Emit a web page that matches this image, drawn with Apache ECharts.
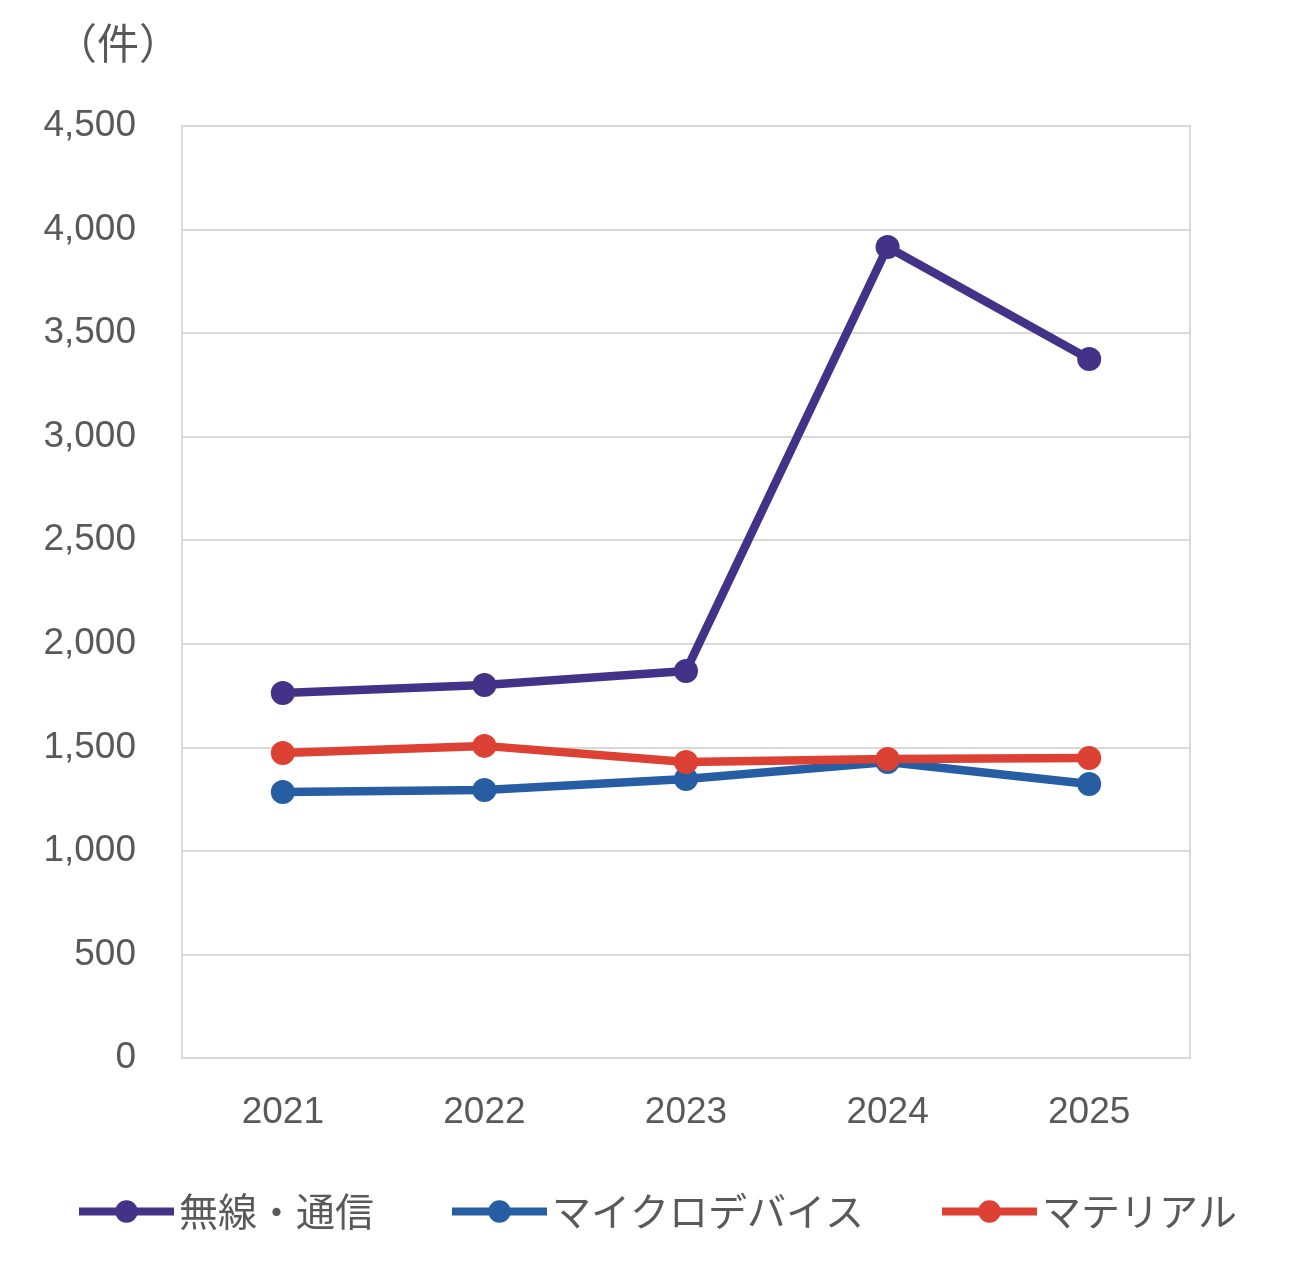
<!DOCTYPE html>
<html>
<head>
<meta charset="utf-8">
<script src="https://cdn.jsdelivr.net/npm/echarts@6/dist/echarts.min.js"></script>
<style>
  html, body { margin: 0; padding: 0; background: #fff; }
  #chart { width: 1312px; height: 1280px; }
</style>
</head>
<body>
<div id="chart"></div>
<script>
// 年度
const years = ['2021', '2022', '2023', '2024', '2025'];
// 件数
const wireless = [1762, 1801, 1869, 3916, 3375];
const microDevice = [1284, 1294, 1347, 1429, 1323];
const material = [1473, 1507, 1429, 1444, 1449];

const seriesNames = ['無線・通信', 'マイクロデバイス', 'マテリアル'];
const colors = ['#433388', '#275ea3', '#dc4133'];

const chart = echarts.init(document.getElementById('chart'));

function lineSeries(name, data, color) {
  return {
    name: name,
    type: 'line',
    data: data,
    symbol: 'circle',
    symbolSize: 24,
    lineStyle: { width: 8.5, color: color },
    itemStyle: { color: color },
    emphasis: { disabled: true }
  };
}

const option = {
  animation: false,
  backgroundColor: '#fff',
  textStyle: { fontFamily: 'Noto Sans CJK JP, Liberation Sans, sans-serif' },
  title: {
    text: '（件）',
    left: 50,
    top: 17,
    textStyle: { fontSize: 42, fontWeight: 'normal', color: '#595959', fontFamily: 'Noto Sans CJK JP' }
  },
  legend: {
    bottom: 44,
    left: 70,
    itemWidth: 95,
    itemHeight: 28,
    itemGap: 74,
    data: seriesNames,
    lineStyle: { width: 8 },
    textStyle: { fontSize: 39, color: '#595959', fontFamily: 'Noto Sans CJK JP' }
  },
  grid: {
    left: 182,
    right: 122,
    top: 126,
    bottom: 222,
    show: true,
    borderColor: '#d9d9d9',
    borderWidth: 2
  },
  xAxis: {
    type: 'category',
    data: years,
    axisLine: { show: false },
    axisTick: { show: false },
    axisLabel: { fontSize: 37, color: '#595959', margin: 36, fontFamily: 'Liberation Sans' }
  },
  yAxis: {
    type: 'value',
    min: 0,
    max: 4500,
    interval: 500,
    axisLine: { show: false },
    axisTick: { show: false },
    splitLine: { lineStyle: { color: '#d9d9d9', width: 2 } },
    axisLabel: {
      fontSize: 37,
      color: '#595959',
      margin: 46,
      fontFamily: 'Liberation Sans',
      formatter: function (v) { return v.toLocaleString('en-US'); }
    }
  },
  series: [
    lineSeries(seriesNames[0], wireless, colors[0]),
    lineSeries(seriesNames[1], microDevice, colors[1]),
    lineSeries(seriesNames[2], material, colors[2])
  ]
};

chart.setOption(option);
</script>
</body>
</html>
